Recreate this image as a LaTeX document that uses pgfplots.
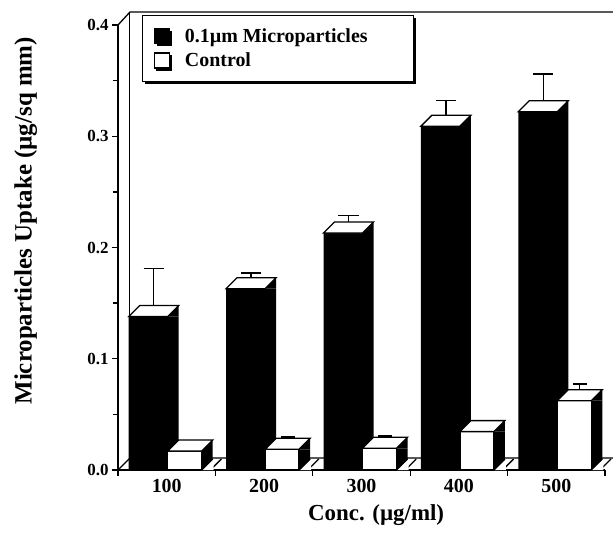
\documentclass[border=0pt]{standalone}
\usepackage{fontspec}
\setmainfont{Liberation Serif}
\usepackage{pgfplots}
\pgfplotsset{compat=1.18}
\usepackage{pgfplotstable}
\usetikzlibrary{shadows}

\pgfplotstableread{
conc micro microerr ctrl ctrlerr
0 0.138 0.038 0.017 0.004
1 0.163 0.009 0.0186 0.006
2 0.213 0.011 0.0195 0.006
3 0.309 0.018 0.0345 0.005
4 0.322 0.029 0.0623 0.010
}\uptake

% top face + top of side face of a 3-d bar, drawn at (group, value)
\pgfdeclareplotmark{topblack}{%
  \pgfsetlinewidth{1.3bp}\pgfsetmiterjoin
  \pgfpathmoveto{\pgfpoint{1bp}{0bp}}%
  \pgfpathlineto{\pgfpoint{12bp}{11bp}}%
  \pgfpathlineto{\pgfpoint{12bp}{0bp}}%
  \pgfpathclose
  \pgfsetfillcolor{black}\pgfusepath{fill}%
  \pgfpathmoveto{\pgfpoint{-38bp}{0bp}}%
  \pgfpathlineto{\pgfpoint{1bp}{0bp}}%
  \pgfpathlineto{\pgfpoint{12bp}{11bp}}%
  \pgfpathlineto{\pgfpoint{-27bp}{11bp}}%
  \pgfpathclose
  \pgfsetfillcolor{white}\pgfsetstrokecolor{black}\pgfusepath{fill,stroke}%
}
\pgfdeclareplotmark{topwhite}{%
  \pgfsetlinewidth{1.3bp}\pgfsetmiterjoin
  \pgfpathmoveto{\pgfpoint{35bp}{0bp}}%
  \pgfpathlineto{\pgfpoint{46bp}{11bp}}%
  \pgfpathlineto{\pgfpoint{46bp}{0bp}}%
  \pgfpathclose
  \pgfsetfillcolor{black}\pgfusepath{fill}%
  \pgfpathmoveto{\pgfpoint{1bp}{0bp}}%
  \pgfpathlineto{\pgfpoint{35bp}{0bp}}%
  \pgfpathlineto{\pgfpoint{46bp}{11bp}}%
  \pgfpathlineto{\pgfpoint{12bp}{11bp}}%
  \pgfpathclose
  \pgfsetfillcolor{white}\pgfsetstrokecolor{black}\pgfusepath{fill,stroke}%
}
% floor seen below the side face of a white bar
\pgfdeclareplotmark{floorwhite}{%
  \pgfsetlinewidth{1.3bp}%
  \pgfpathmoveto{\pgfpoint{35bp}{0bp}}%
  \pgfpathlineto{\pgfpoint{47bp}{0bp}}%
  \pgfpathlineto{\pgfpoint{47bp}{11bp}}%
  \pgfpathclose
  \pgfsetfillcolor{white}\pgfusepath{fill}%
  \pgfpathmoveto{\pgfpoint{35bp}{0bp}}%
  \pgfpathlineto{\pgfpoint{46bp}{11bp}}%
  \pgfsetstrokecolor{black}\pgfusepath{stroke}%
}

\begin{document}
\begin{tikzpicture}
\begin{axis}[
  scale only axis, width=487bp, height=445bp,
  xmin=-0.5, xmax=4.5, ymin=0, ymax=0.4,
  clip=false, axis on top,
  axis x line*=bottom, axis y line*=left,
  axis line style={-, line width=1.8bp},
  x tick label as interval,
  xtick={-0.5,0.5,1.5,2.5,3.5,4.5},
  xticklabels={100,200,300,400,500},
  ytick={0,0.1,0.2,0.3,0.4},
  minor y tick num=1,
  tick align=outside,
  major tick length=6bp, minor tick length=5bp,
  tick style={black, line width=1.3bp},
  /pgf/number format/assume math mode=true,
  yticklabel style={font=\fontsize{17}{17}\selectfont\bfseries,
    /pgf/number format/.cd, fixed, fixed zerofill, precision=1},
  xticklabel style={font=\fontsize{20}{20}\selectfont\bfseries},
  xlabel={Conc. (µg/ml)},
  ylabel={Microparticles Uptake (µg/sq mm)},
  xlabel style={at={(axis description cs:0.53,0)}, anchor=base, yshift=-50bp,
    font=\fontsize{23}{23}\selectfont\bfseries},
  ylabel style={at={(axis description cs:-0.1776,0.56)}, anchor=base,
    font=\fontsize{25}{25}\selectfont\bfseries},
  legend cell align=left,
  legend style={at={(axis description cs:0.0493,1.0225)}, anchor=north west,
    draw=black, line width=1.3bp, fill=white,
    font=\fontsize{20}{22}\selectfont\bfseries,
    inner xsep=11bp, inner ysep=11bp, row sep=5bp,
    /tikz/every odd column/.append style={column sep=13bp},
    drop shadow={shadow xshift=2.5bp, shadow yshift=-2.5bp, fill=black, opacity=1}},
]
\coordinate (O) at (rel axis cs:0,0);
% back wall and floor of the 3-d frame
\draw[line width=1.3bp] (rel axis cs:0,1) -- ++(12bp,13bp) coordinate (TL)
  -- ([shift={(20bp,13bp)}]rel axis cs:1,1);
\draw[line width=1bp] (TL) -- ([shift={(12bp,12bp)}]rel axis cs:0,0);
\draw[line width=1.3bp] (rel axis cs:0,0) -- ++(12bp,12bp)
  -- ([shift={(14bp,12bp)}]rel axis cs:1,0);
\pgfplotsinvokeforeach{0.5,1.5,2.5,3.5,4.5}{
  \draw[line width=1.3bp] ([xshift=-5bp]axis cs:#1,0) -- ++(11bp,11bp);
}

% 0.1 um microparticles
\addplot[ybar, bar width=50bp, bar shift=-13bp, fill=black, draw=none,
  legend image code/.code={\draw[fill=black, draw=black, line width=1bp]
    (0bp,-7.5bp) rectangle (15bp,7.5bp);}]
  table[x=conc, y=micro] {\uptake};
\addlegendentry{0.1µm Microparticles\hspace*{33bp}}
\addplot[only marks, mark=topblack, forget plot] table[x=conc, y=micro] {\uptake};
\addplot[draw=none, mark=none, xshift=-13bp, yshift=5.5bp, forget plot,
  error bars/.cd, y dir=plus, y explicit,
  error bar style={draw=black, line width=1.3bp},
  error mark options={draw=black, rotate=90, line width=1.3bp, mark size=10bp}]
  table[x=conc, y=micro, y error=microerr] {\uptake};

% control
\addplot[ybar, bar width=45bp, bar shift=23.5bp, fill=black, draw=none, forget plot]
  table[x=conc, y=ctrl] {\uptake};
\addplot[ybar, bar width=34bp, bar shift=18bp, fill=white, draw=black, line width=1.3bp,
  legend image code/.code={\draw[fill=white, draw=black, line width=1.3bp]
    (0bp,-7.5bp) rectangle (15bp,7.5bp);}]
  table[x=conc, y=ctrl] {\uptake};
\addlegendentry{Control}
\addplot[only marks, mark=topwhite, forget plot] table[x=conc, y=ctrl] {\uptake};
\addplot[only marks, mark=floorwhite, forget plot] table[x=conc, y expr=0] {\uptake};
\addplot[draw=none, mark=none, xshift=23.5bp, yshift=5.5bp, forget plot,
  error bars/.cd, y dir=plus, y explicit,
  error bar style={draw=black, line width=1.3bp},
  error mark options={draw=black, rotate=90, line width=1.3bp, mark size=7bp}]
  table[x=conc, y=ctrl, y error=ctrlerr] {\uptake};
\end{axis}
\pgfresetboundingbox
\path[use as bounding box] ([shift={(-118bp,-80bp)}]O) rectangle ([shift={(495bp,470bp)}]O);
\end{tikzpicture}
\end{document}
